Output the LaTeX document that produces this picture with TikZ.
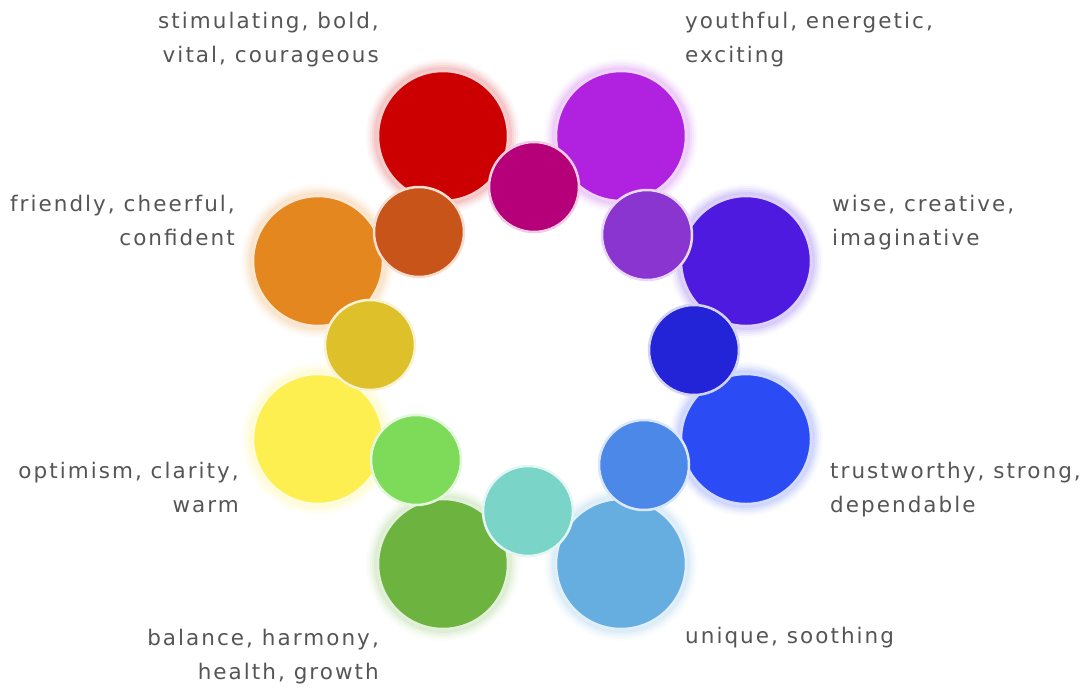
\documentclass[tikz,border=0pt]{standalone}
\usepackage{fontspec}
\setmainfont{DejaVu Sans}[LetterSpace=9.5]
\definecolor{cRed}{HTML}{CC0000}
\definecolor{cPurple}{HTML}{B022E0}
\definecolor{cIndigo}{HTML}{4F1AE0}
\definecolor{cBlue}{HTML}{2B4BF5}
\definecolor{cLBlue}{HTML}{66AEE0}
\definecolor{cGreen}{HTML}{6DB33F}
\definecolor{cYellow}{HTML}{FCEF4F}
\definecolor{cOrange}{HTML}{E5871F}
\definecolor{sMagenta}{HTML}{B5007A}
\definecolor{sDOrange}{HTML}{C8541A}
\definecolor{sViolet}{HTML}{8A35D0}
\definecolor{sDBlue}{HTML}{2323D8}
\definecolor{sMBlue}{HTML}{4C88E8}
\definecolor{sTeal}{HTML}{7AD4C8}
\definecolor{sLGreen}{HTML}{7EDB5A}
\definecolor{sOlive}{HTML}{DEC12A}
\definecolor{txt}{HTML}{555555}
\tikzset{
  bigdot/.style={circle, minimum size=130pt, inner sep=0pt, fill=#1, draw=#1!20, line width=2.5pt},
  smalldot/.style={circle, minimum size=90pt, inner sep=0pt, fill=#1, draw=#1!20, line width=2.5pt},
  lbl/.style={font=\fontsize{21.5}{34}\selectfont, text=txt, inner sep=0pt, align=#1},
}
\newcommand{\glowdot}[3]{% name, position, colour
  \foreach \r/\o in {77/0.025,75/0.035,73/0.05,71/0.06,69/0.08}{
    \fill[#3, opacity=\o] (#2) circle (\r pt);
  }
  \node[bigdot=#3] (#1) at (#2) {};
}
\begin{document}
\begin{tikzpicture}[x=1pt,y=-1pt]
\useasboundingbox (0,0) rectangle (1090,689);
% big circles
\glowdot{red}{443,136}{cRed}
\glowdot{purple}{621,136}{cPurple}
\glowdot{indigo}{746,261}{cIndigo}
\glowdot{blue}{746,439}{cBlue}
\glowdot{lblue}{621,564}{cLBlue}
\glowdot{green}{443,564}{cGreen}
\glowdot{yellow}{318,439}{cYellow}
\glowdot{orange}{318,261}{cOrange}
% small circles
\node[smalldot=sMagenta] (magenta) at (534,187) {};
\node[smalldot=sViolet] (violet) at (647,235) {};
\node[smalldot=sDBlue] (dblue) at (694,350) {};
\node[smalldot=sMBlue] (mblue) at (644,465) {};
\node[smalldot=sTeal] (teal) at (528,511) {};
\node[smalldot=sLGreen] (lgreen) at (416,460) {};
\node[smalldot=sOlive] (olive) at (370,345) {};
\node[smalldot=sDOrange] (dorange) at (419,232) {};
% labels
\node[lbl=right, anchor=north east] (t1) at (379,12) {stimulating, bold,\\vital, courageous};
\node[lbl=left, anchor=north west] (t2) at (685,12) {youthful, energetic,\\exciting};
\node[lbl=right, anchor=north east] (t3) at (235,195) {friendly, cheerful,\\confident};
\node[lbl=left, anchor=north west] (t4) at (832,195) {wise, creative,\\imaginative};
\node[lbl=right, anchor=north east] (t5) at (239,462) {optimism, clarity,\\warm};
\node[lbl=left, anchor=north west] (t6) at (830,462) {trustworthy, strong,\\dependable};
\node[lbl=right, anchor=north east] (t7) at (379,629) {balance, harmony,\\health, growth};
\node[lbl=left, anchor=north west] (t8) at (685,627) {unique, soothing};
\end{tikzpicture}
\end{document}
